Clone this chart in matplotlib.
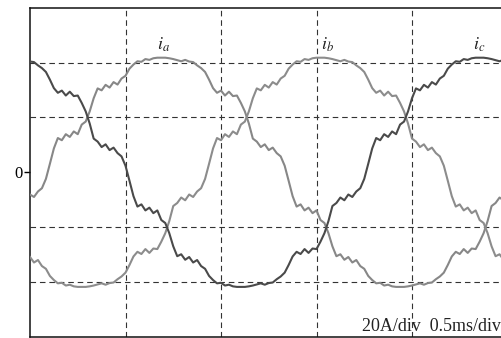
import numpy as np
import matplotlib
matplotlib.use("Agg")
import matplotlib.pyplot as plt

plt.rcParams["mathtext.fontset"] = "stix"

# sample times (ms), 120 samples across the 2.5 ms window
t_ms = np.arange(120) * 2.5 / 120

# phase currents (A)
i_a = [-8.1, -9.0, -7.0, -5.8, -2.4,
       3.1, 8.7, 12.5, 11.7, 13.9, 12.9, 14.9, 13.9, 17.4, 18.5, 22.2, 27.0,
       30.6, 29.9, 31.9, 30.9, 32.9, 32.0, 34.2, 35.2, 37.8, 39.3, 40.5, 40.3,
       41.3, 41.0, 41.6, 41.8, 41.8, 41.8, 41.6, 41.3, 40.9, 40.5, 41.0, 40.4,
       40.2, 39.0, 38.0, 36.6, 33.8, 30.7, 29.0, 29.8, 28.0, 29.4, 27.8, 28.0,
       25.3, 22.2, 17.8, 12.3, 11.2, 9.2, 10.2, 8.1, 9.0, 7.0, 5.8, 2.4,
       -3.1, -8.7, -12.5, -11.7, -13.9, -12.9, -14.9, -13.9, -17.4, -18.5, -22.2, -27.0,
       -30.6, -29.9, -31.9, -30.9, -32.9, -32.0, -34.2, -35.2, -37.8, -39.3, -40.5, -40.3,
       -41.3, -41.0, -41.6, -41.8, -41.8, -41.8, -41.6, -41.3, -40.9, -40.5, -41.0, -40.4,
       -40.2, -39.0, -38.0, -36.6, -33.8, -30.7, -29.0, -29.8, -28.0, -29.4, -27.8, -28.0,
       -25.3, -22.2, -17.8, -12.3, -11.2, -9.2, -10.2]

i_b = [-30.9, -32.9, -32.0, -34.2, -35.2, -37.8, -39.3, -40.5, -40.3,
       -41.3, -41.0, -41.6, -41.8, -41.8, -41.8, -41.6, -41.3, -40.9, -40.5, -41.0, -40.4,
       -40.2, -39.0, -38.0, -36.6, -33.8, -30.7, -29.0, -29.8, -28.0, -29.4, -27.8, -28.0,
       -25.3, -22.2, -17.8, -12.3, -11.2, -9.2, -10.2, -8.1, -9.0, -7.0, -5.8, -2.4,
       3.1, 8.7, 12.5, 11.7, 13.9, 12.9, 14.9, 13.9, 17.4, 18.5, 22.2, 27.0,
       30.6, 29.9, 31.9, 30.9, 32.9, 32.0, 34.2, 35.2, 37.8, 39.3, 40.5, 40.3,
       41.3, 41.0, 41.6, 41.8, 41.8, 41.8, 41.6, 41.3, 40.9, 40.5, 41.0, 40.4,
       40.2, 39.0, 38.0, 36.6, 33.8, 30.7, 29.0, 29.8, 28.0, 29.4, 27.8, 28.0,
       25.3, 22.2, 17.8, 12.3, 11.2, 9.2, 10.2, 8.1, 9.0, 7.0, 5.8, 2.4,
       -3.1, -8.7, -12.5, -11.7, -13.9, -12.9, -14.9, -13.9, -17.4, -18.5, -22.2, -27.0,
       -30.6, -29.9, -31.9]

i_c = [40.4, 40.2, 39.0, 38.0, 36.6, 33.8, 30.7, 29.0, 29.8, 28.0, 29.4, 27.8, 28.0,
       25.3, 22.2, 17.8, 12.3, 11.2, 9.2, 10.2, 8.1, 9.0, 7.0, 5.8, 2.4,
       -3.1, -8.7, -12.5, -11.7, -13.9, -12.9, -14.9, -13.9, -17.4, -18.5, -22.2, -27.0,
       -30.6, -29.9, -31.9, -30.9, -32.9, -32.0, -34.2, -35.2, -37.8, -39.3, -40.5, -40.3,
       -41.3, -41.0, -41.6, -41.8, -41.8, -41.8, -41.6, -41.3, -40.9, -40.5, -41.0, -40.4,
       -40.2, -39.0, -38.0, -36.6, -33.8, -30.7, -29.0, -29.8, -28.0, -29.4, -27.8, -28.0,
       -25.3, -22.2, -17.8, -12.3, -11.2, -9.2, -10.2, -8.1, -9.0, -7.0, -5.8, -2.4,
       3.1, 8.7, 12.5, 11.7, 13.9, 12.9, 14.9, 13.9, 17.4, 18.5, 22.2, 27.0,
       30.6, 29.9, 31.9, 30.9, 32.9, 32.0, 34.2, 35.2, 37.8, 39.3, 40.5, 40.3,
       41.3, 41.0, 41.6, 41.8, 41.8, 41.8, 41.6, 41.3, 40.9, 40.5, 41.0]

series_labels = [r"$i_a$", r"$i_b$", r"$i_c$"]
label_t = [0.70, 1.56, 2.35]
label_i = [46.5, 46.5, 46.5]
scale_text = "20A/div  0.5ms/div"

W, H = 502, 338
fig = plt.figure(figsize=(W / 100, H / 100), dpi=100)
ax = fig.add_axes([30 / W, 1.2 / H, 1 - 30 / W, (337 - 8) / H])

ax.plot(t_ms, i_a, color="#878787", lw=1.5, zorder=3)
ax.plot(t_ms, i_b, color="#8c8c8c", lw=1.5, zorder=3)
ax.plot(t_ms, i_c, color="#4a4a4a", lw=1.5, zorder=4)

ax.set_xlim(0, 472 / 191)
ax.set_ylim(-60, 60)

ax.set_xticks([])
ax.set_xticks([0.5, 1.0, 1.5, 2.0], minor=True)
ax.set_yticks([0])
ax.set_yticklabels(["0"], fontfamily="Liberation Serif", fontsize=12)
ax.set_yticks([-40, -20, 0, 20, 40], minor=True)
ax.tick_params(axis="y", which="major", direction="out", length=4, width=1, pad=1)
ax.tick_params(which="minor", length=0)
ax.grid(which="minor", color="#333333", lw=0.8, linestyle=(0, (5, 3.5)))

for s in ["left", "top", "bottom"]:
    ax.spines[s].set_linewidth(1.1)
    ax.spines[s].set_color("#111111")
ax.spines["right"].set_visible(False)

for lab, tx, ty in zip(series_labels, label_t, label_i):
    ax.text(tx, ty, lab, ha="center", va="center", fontsize=13, color="#222222")

fig.text(501 / W, 7 / H, scale_text, ha="right", va="baseline",
         fontsize=13, fontfamily="Liberation Serif", color="#222222")

fig.savefig("out.png", dpi=100)
